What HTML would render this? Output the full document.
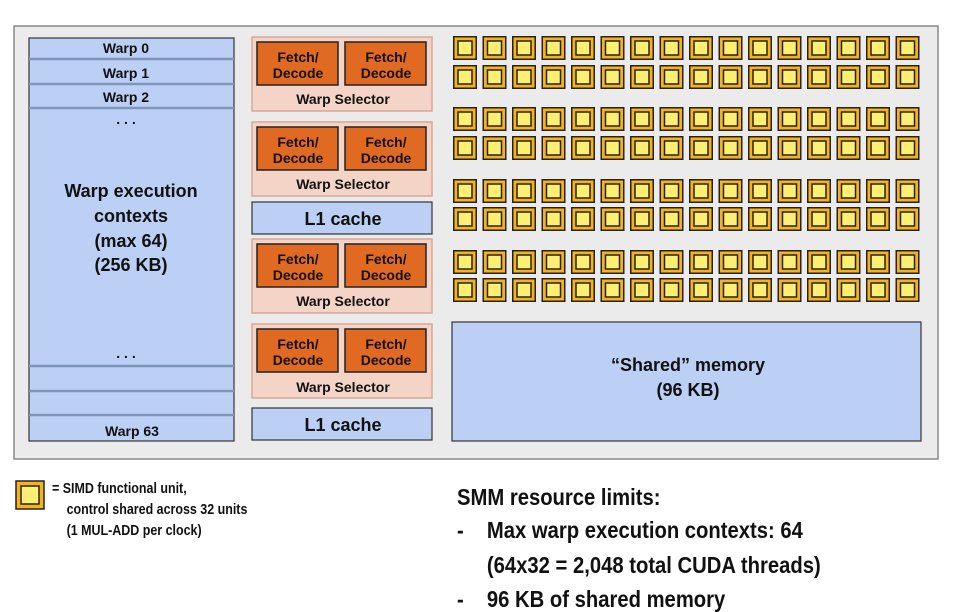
<!DOCTYPE html>
<html><head><style>body{margin:0;background:#fff}svg{display:block}text{font-family:"Liberation Sans",sans-serif;font-weight:bold;fill:#111}</style></head><body>
<svg width="977" height="612" viewBox="0 0 977 612" xmlns="http://www.w3.org/2000/svg">
<defs>
<g id="u"><rect x="0.75" y="0.75" width="22.5" height="22.5" fill="#f7b21a" stroke="#222" stroke-width="1.5"/><rect x="5" y="5" width="14" height="14" fill="#fdef74" stroke="#222" stroke-width="1.5"/></g>
<g id="row">
<use href="#u" x="0"/><use href="#u" x="29.5"/><use href="#u" x="59"/><use href="#u" x="88.5"/><use href="#u" x="118"/><use href="#u" x="147.5"/><use href="#u" x="177"/><use href="#u" x="206.5"/><use href="#u" x="236"/><use href="#u" x="265.5"/><use href="#u" x="295"/><use href="#u" x="324.5"/><use href="#u" x="354"/><use href="#u" x="383.5"/><use href="#u" x="413"/><use href="#u" x="442.5"/>
</g>
<g id="fd">
<rect x="0" y="0" width="180" height="74" fill="#f4d4c7" stroke="#d8a898" stroke-width="1.5"/>
<rect x="5" y="5" width="81" height="43" fill="#e06a22" stroke="#222" stroke-width="1.5"/>
<rect x="93" y="5" width="81" height="43" fill="#e06a22" stroke="#222" stroke-width="1.5"/>
</g>
</defs>
<rect x="14" y="26" width="924" height="433" fill="#ebebeb" stroke="#888" stroke-width="1.5"/>
<rect x="29" y="38" width="205" height="403" fill="#bcd0f5" stroke="#333" stroke-width="1.2"/>
<g stroke="#7f95b8" stroke-width="2.5">
<line x1="29" y1="59" x2="234" y2="59"/><line x1="29" y1="84" x2="234" y2="84"/><line x1="29" y1="108" x2="234" y2="108"/>
<line x1="29" y1="366" x2="234" y2="366"/><line x1="29" y1="391" x2="234" y2="391"/><line x1="29" y1="415" x2="234" y2="415"/>
</g>
<g text-anchor="middle" font-size="14">
<text x="126" y="53">Warp 0</text><text x="126" y="78">Warp 1</text><text x="126" y="102">Warp 2</text>
<text x="126" y="124">. . .</text><text x="126" y="358">. . .</text><text x="132" y="436">Warp 63</text>
</g>
<g text-anchor="middle" font-size="18">
<text x="131" y="197">Warp execution</text><text x="131" y="222">contexts</text><text x="131" y="247">(max 64)</text><text x="131" y="271">(256 KB)</text>
</g>
<use href="#fd" x="252" y="37"/><use href="#fd" x="252" y="122"/><use href="#fd" x="252" y="239"/><use href="#fd" x="252" y="324"/>
<g text-anchor="middle" font-size="14">
<text x="298" y="62">Fetch/</text><text x="298" y="78">Decode</text><text x="386" y="62">Fetch/</text><text x="386" y="78">Decode</text><text x="343" y="104">Warp Selector</text>
<text x="298" y="147">Fetch/</text><text x="298" y="163">Decode</text><text x="386" y="147">Fetch/</text><text x="386" y="163">Decode</text><text x="343" y="189">Warp Selector</text>
<text x="298" y="264">Fetch/</text><text x="298" y="280">Decode</text><text x="386" y="264">Fetch/</text><text x="386" y="280">Decode</text><text x="343" y="306">Warp Selector</text>
<text x="298" y="349">Fetch/</text><text x="298" y="365">Decode</text><text x="386" y="349">Fetch/</text><text x="386" y="365">Decode</text><text x="343" y="392">Warp Selector</text>
</g>
<rect x="252" y="202" width="180" height="32" fill="#bcd0f5" stroke="#333" stroke-width="1.2"/>
<rect x="252" y="408" width="180" height="32" fill="#bcd0f5" stroke="#333" stroke-width="1.2"/>
<g text-anchor="middle" font-size="18"><text x="343" y="225">L1 cache</text><text x="343" y="431">L1 cache</text></g>
<use href="#row" x="453" y="36"/><use href="#row" x="453" y="65"/>
<use href="#row" x="453" y="107"/><use href="#row" x="453" y="136"/>
<use href="#row" x="453" y="179"/><use href="#row" x="453" y="207"/>
<use href="#row" x="453" y="250"/><use href="#row" x="453" y="278"/>
<rect x="452" y="322" width="469" height="119" fill="#bcd0f5" stroke="#333" stroke-width="1.2"/>
<g text-anchor="middle" font-size="18"><text x="688" y="371">“Shared” memory</text><text x="688" y="396">(96 KB)</text></g>
<rect x="16" y="481" width="28" height="28" fill="#f7b21a" stroke="#222" stroke-width="1.5"/>
<rect x="21" y="486" width="18" height="18" fill="#fdef74" stroke="#222" stroke-width="1.5"/>
<g font-size="14.5" transform="translate(52,0) scale(0.86,1)">
<text x="0" y="493">= SIMD functional unit,</text>
<text x="17" y="514">control shared across 32 units</text>
<text x="17" y="535">(1 MUL-ADD per clock)</text>
</g>
<g font-size="23" transform="translate(457,0) scale(0.88,1)">
<text x="0" y="505">SMM resource limits:</text>
<text x="0" y="538">-</text><text x="34" y="538">Max warp execution contexts: 64</text>
<text x="34" y="573">(64x32 = 2,048 total CUDA threads)</text>
<text x="0" y="607">-</text><text x="34" y="607">96 KB of shared memory</text>
</g>
</svg>
</body></html>
